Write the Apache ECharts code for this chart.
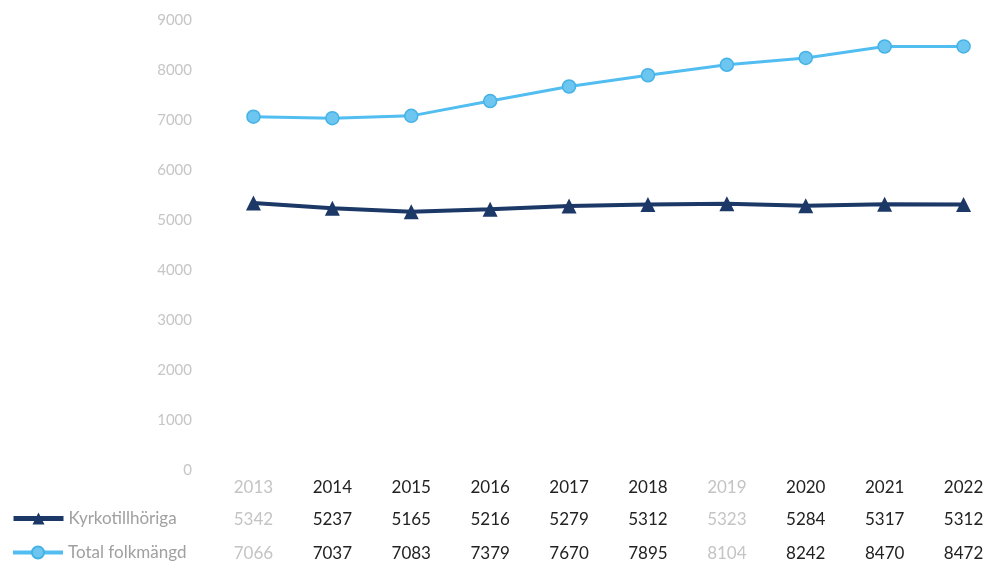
<!DOCTYPE html>
<html>
<head>
<meta charset="utf-8">
<script src="https://cdn.jsdelivr.net/npm/echarts@6/dist/echarts.min.js"></script>
<style>html,body{margin:0;padding:0;background:#fff;}#c{width:1003px;height:562px;}</style>
</head>
<body>
<div id="c"></div>
<script>
const years = ['2013','2014','2015','2016','2017','2018','2019','2020','2021','2022'];
const kyrkotillhoriga = [5342,5237,5165,5216,5279,5312,5323,5284,5317,5312];
const totalFolkmangd = [7066,7037,7083,7379,7670,7895,8104,8242,8470,8472];
const yTicks = [0,1000,2000,3000,4000,5000,6000,7000,8000,9000];

const fadedCols = ['2013','2019'];
const font = 'Lato, "Open Sans", sans-serif';
const colColor = (v) => fadedCols.indexOf(v) >= 0 ? '#c4c4c4' : '#222';

const navy = '#1b3866';
const sky = '#52bdf0';

function tableAxis(values, offset) {
  return {
    type: 'category', data: years, position: 'bottom', offset: offset,
    axisLine: {show: false}, axisTick: {show: false},
    axisLabel: {
      margin: 8, fontSize: 17, fontFamily: font, interval: 0,
      formatter: (v, i) => String(values[i]),
      color: (v) => colColor(v)
    }
  };
}

function legendFor(name, top, width) {
  return {
    orient: 'horizontal', left: 11, top: top, padding: 0,
    itemWidth: 50, itemHeight: 15, itemGap: 0,
    textStyle: {color: '#a0a0a0', fontSize: 17, fontFamily: font},
    data: [{name: name, lineStyle: {width: width}}]
  };
}

const chart = echarts.init(document.getElementById('c'));
chart.setOption({
  animation: false,
  backgroundColor: '#fff',
  grid: {left: 214, right: -14, top: 20, bottom: 92, containLabel: false},
  legend: [
    legendFor('Kyrkotillhöriga', 510, 5),
    legendFor('Total folkmängd', 544, 4)
  ],
  xAxis: [
    {
      type: 'category', data: years, position: 'bottom',
      axisLine: {show: false}, axisTick: {show: false},
      axisLabel: {margin: 9, fontSize: 17, fontFamily: font, interval: 0, color: (v) => colColor(v)}
    },
    tableAxis(kyrkotillhoriga, 33),
    tableAxis(totalFolkmangd, 67)
  ],
  yAxis: {
    type: 'value', min: yTicks[0], max: yTicks[yTicks.length-1], interval: 1000,
    axisLine: {show: false}, axisTick: {show: false}, splitLine: {show: false},
    axisLabel: {margin: 22, fontSize: 15, fontFamily: font, color: '#c6c6c6', formatter: (v) => String(v)}
  },
  series: [
    {
      name: 'Kyrkotillhöriga', type: 'line', data: kyrkotillhoriga, xAxisIndex: 0,
      symbol: 'triangle', symbolSize: 15,
      lineStyle: {color: navy, width: 4},
      itemStyle: {color: navy}
    },
    {
      name: 'Total folkmängd', type: 'line', data: totalFolkmangd, xAxisIndex: 0,
      symbol: 'circle', symbolSize: 13,
      lineStyle: {color: sky, width: 3},
      itemStyle: {color: '#6cc6f0', borderColor: '#45b2e6', borderWidth: 1.5}
    }
  ]
});
</script>
</body>
</html>
